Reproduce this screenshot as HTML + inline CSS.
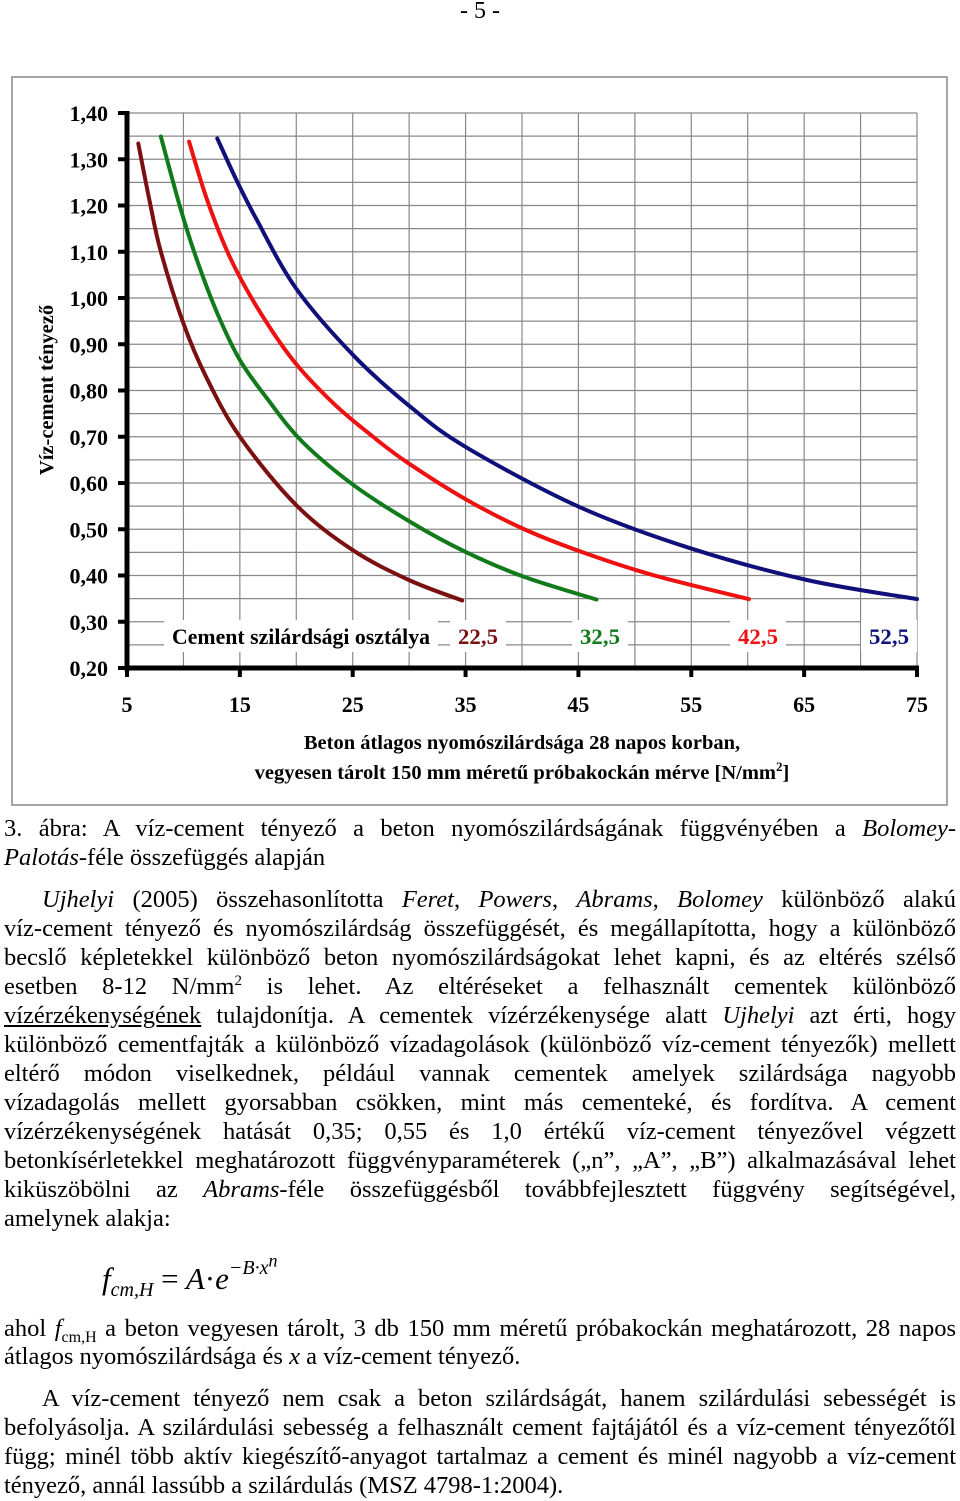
<!DOCTYPE html>
<html><head><meta charset="utf-8">
<style>
body{margin:0;width:960px;height:1501px;background:#fff;position:relative;overflow:hidden;font-family:"Liberation Serif",serif;color:#000}
.ln{position:absolute;left:4px;width:952px;font-size:24.5px;line-height:29px;white-space:nowrap}
.j{text-align:justify;text-align-last:justify;white-space:normal}
i{font-style:italic}
svg text{font-family:"Liberation Serif",serif;font-weight:bold}
</style></head><body>
<div style="position:absolute;left:0;width:960px;top:-2px;text-align:center;font-size:24px">- 5 -</div>
<svg id="chart" width="960" height="810" style="position:absolute;left:0;top:0">
<rect x="12" y="77" width="935" height="728" fill="#fff" stroke="#888" stroke-width="1.5"/>
<g id="grid"></g><g id="legend"></g><g id="series"></g><g id="axes"></g>
<text transform="translate(53,390) rotate(-90)" text-anchor="middle" font-size="20.5">Víz-cement tényező</text>
<text x="522" y="749" text-anchor="middle" font-size="20.5">Beton átlagos nyomószilárdsága 28 napos korban,</text>
<text x="522" y="779" text-anchor="middle" font-size="20.5">vegyesen tárolt 150 mm méretű próbakockán mérve [N/mm<tspan dy="-8" font-size="13">2</tspan><tspan dy="8">]</tspan></text>
</svg>
<script>
const xTicks=[5,15,25,35,45,55,65,75];
const yTicks=[0.2,0.3,0.4,0.5,0.6,0.7,0.8,0.9,1.0,1.1,1.2,1.3,1.4];
const seriesNames=["22,5","32,5","42,5","52,5"];
const s225=[[6.0,1.334],[7.0,1.21],[8.0,1.10],[10,0.945],[12,0.83],[15,0.70],[20,0.552],[25,0.455],[30,0.39],[34.7,0.346]];
const s325=[[8.0,1.349],[9.7,1.197],[11.2,1.082],[13.0,0.967],[15.0,0.866],[17.5,0.78],[20.5,0.69],[25.1,0.595],[30.3,0.513],[35.0,0.451],[40.2,0.397],[46.6,0.348]];
const s425=[[10.5,1.338],[12.1,1.212],[14.1,1.089],[16.5,0.981],[19.7,0.866],[23.3,0.772],[26.8,0.70],[29.8,0.645],[35,0.565],[40.2,0.50],[45.4,0.45],[51.6,0.401],[60.1,0.349]];
const s525=[[13.0,1.345],[14.7,1.255],[16.5,1.169],[20,1.02],[25.1,0.875],[30.1,0.765],[35,0.678],[45,0.549],[54.9,0.459],[65.3,0.39],[75,0.349]];
const NS="http://www.w3.org/2000/svg";
const X=v=>127+(v-5)*790/70, Y=v=>668-(v-0.2)*462.5;
function mk(p,t,a){const e=document.createElementNS(NS,t);for(const k in a)e.setAttribute(k,a[k]);p.appendChild(e);return e;}
const grid=document.getElementById('grid'),axes=document.getElementById('axes'),ser=document.getElementById('series'),leg=document.getElementById('legend');
for(let v=5;v<=75;v+=5){const l=mk(grid,'line',{x1:X(v),x2:X(v),y1:Y(1.4),y2:Y(0.2),stroke:'#888','stroke-width':1.2});

}
for(let i=0;i<=24;i++){const v=0.2+i*0.05;const l=mk(grid,'line',{x1:X(5),x2:X(75),y1:Y(v),y2:Y(v),stroke:'#888','stroke-width':1.2});

}
const legItems=[["Cement szilárdsági osztálya",172,258,"#000"],["22,5",458,40,"#7a1010"],["32,5",580,40,"#117a1a"],["42,5",738,40,"#ee1111"],["52,5",869,40,"#10107a"]];
legItems.forEach(([t,x,w,c])=>{mk(leg,'rect',{x:x-8,y:620,width:w+16,height:32,fill:'#fff'});
const tx=mk(leg,'text',{x:x,y:644,'font-size':22,fill:c,textLength:w,lengthAdjust:'spacingAndGlyphs'});tx.textContent=t;

});
const ya=mk(axes,'line',{x1:X(5),x2:X(5),y1:Y(1.4)-2,y2:Y(0.2)+3,stroke:'#000','stroke-width':5});


const xa=mk(axes,'line',{x1:X(5)-2,x2:X(75)+2,y1:Y(0.2),y2:Y(0.2),stroke:'#000','stroke-width':5});


yTicks.forEach(v=>{mk(axes,'line',{x1:X(5)-9,x2:X(5),y1:Y(v),y2:Y(v),stroke:'#000','stroke-width':4});
const t=mk(axes,'text',{x:108,y:Y(v)+8,'text-anchor':'end','font-size':22});t.textContent=v.toFixed(2).replace('.',',');

});
xTicks.forEach(v=>{mk(axes,'line',{x1:X(v),x2:X(v),y1:Y(0.2),y2:Y(0.2)+9,stroke:'#000','stroke-width':4});
const t=mk(axes,'text',{x:X(v),y:712,'text-anchor':'middle','font-size':22});t.textContent=v;

});
function path(pts){const P=pts.map(p=>[X(p[0]),Y(p[1])]);let d='M'+P[0][0]+','+P[0][1];
for(let i=0;i<P.length-1;i++){const p0=P[i-1]||P[i],p1=P[i],p2=P[i+1],p3=P[i+2]||P[i+1];
d+=' C'+(p1[0]+(p2[0]-p0[0])/6)+','+(p1[1]+(p2[1]-p0[1])/6)+' '+(p2[0]-(p3[0]-p1[0])/6)+','+(p2[1]-(p3[1]-p1[1])/6)+' '+p2[0]+','+p2[1];}return d;}
[[s225,'#7a1010'],[s325,'#117a1a'],[s425,'#ee1111'],[s525,'#10107a']].forEach(([s,c],i)=>{
const p=mk(ser,'path',{d:path(s),fill:'none',stroke:c,'stroke-width':4,'stroke-linecap':'round'});

});
</script>
<div class="ln j" style="top:814px">3. ábra: A víz-cement tényező a beton nyomószilárdságának függvényében a <i>Bolomey-</i></div>
<div class="ln" style="top:843px"><i>Palotás</i>-féle összefüggés alapján</div>
<div>
<div class="ln j" style="top:885px;left:42px;width:914px"><i>Ujhelyi</i> (2005) összehasonlította <i>Feret</i>, <i>Powers</i>, <i>Abrams</i>, <i>Bolomey</i> különböző alakú</div>
<div class="ln j" style="top:914px">víz-cement tényező és nyomószilárdság összefüggését, és megállapította, hogy a különböző</div>
<div class="ln j" style="top:943px">becslő képletekkel különböző beton nyomószilárdságokat lehet kapni, és az eltérés szélső</div>
<div class="ln j" style="top:972px">esetben 8-12 N/mm<sup style="font-size:15px;line-height:0">2</sup> is lehet. Az eltéréseket a felhasznált cementek különböző</div>
<div class="ln j" style="top:1001px"><u>vízérzékenységének</u> tulajdonítja. A cementek vízérzékenysége alatt <i>Ujhelyi</i> azt érti, hogy</div>
<div class="ln j" style="top:1030px">különböző cementfajták a különböző vízadagolások (különböző víz-cement tényezők) mellett</div>
<div class="ln j" style="top:1059px">eltérő módon viselkednek, például vannak cementek amelyek szilárdsága nagyobb</div>
<div class="ln j" style="top:1088px">vízadagolás mellett gyorsabban csökken, mint más cementeké, és fordítva. A cement</div>
<div class="ln j" style="top:1117px">vízérzékenységének hatását 0,35; 0,55 és 1,0 értékű víz-cement tényezővel végzett</div>
<div class="ln j" style="top:1146px">betonkísérletekkel meghatározott függvényparaméterek („n”, „A”, „B”) alkalmazásával lehet</div>
<div class="ln j" style="top:1175px">kiküszöbölni az <i>Abrams</i>-féle összefüggésből továbbfejlesztett függvény segítségével,</div>
<div class="ln" style="top:1204px">amelynek alakja:</div>
</div>
<div style="position:absolute;left:102px;top:1254px;font-size:31px;font-style:italic;white-space:nowrap">f<sub style="font-size:20px">cm,H</sub> <span style="font-style:normal">=</span> A<span style="font-style:normal">·</span>e<sup style="font-size:20px;position:relative;top:-4px">−B·x<sup style="font-size:18px">n</sup></sup></div>
<div class="ln j" style="top:1314px">ahol <i>f</i><sub style="font-size:16px">cm,H</sub> a beton vegyesen tárolt, 3 db 150 mm méretű próbakockán meghatározott, 28 napos</div>
<div class="ln" style="top:1342px">átlagos nyomószilárdsága és <i>x</i> a víz-cement tényező.</div>
<div>
<div class="ln j" style="top:1384px;left:42px;width:914px">A víz-cement tényező nem csak a beton szilárdságát, hanem szilárdulási sebességét is</div>
<div class="ln j" style="top:1413px">befolyásolja. A szilárdulási sebesség a felhasznált cement fajtájától és a víz-cement tényezőtől</div>
<div class="ln j" style="top:1442px">függ; minél több aktív kiegészítő-anyagot tartalmaz a cement és minél nagyobb a víz-cement</div>
<div class="ln" style="top:1471px">tényező, annál lassúbb a szilárdulás (MSZ 4798-1:2004).</div>
</div>
</body></html>
